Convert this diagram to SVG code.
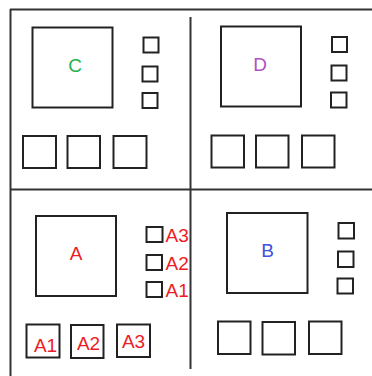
<svg xmlns="http://www.w3.org/2000/svg" width="372" height="376" viewBox="0 0 372 376">
<style>
  .frame { stroke: #333; stroke-width: 2; fill: none; }
  .box { fill: #fff; stroke: #222; stroke-width: 2; }
  .lbl { font-family: "Liberation Sans", Arial, sans-serif; font-size: 19px; }
  .mid { text-anchor: middle; }
  .red { fill: #ED1C24; }
</style>
<rect width="372" height="376" fill="#fff"/>
<g id="frame">
  <line class="frame" x1="10" y1="9.5" x2="372" y2="9.5"/>
  <line class="frame" x1="10.5" y1="9" x2="10.5" y2="376"/>
  <line class="frame" x1="10" y1="189.5" x2="372" y2="189.5"/>
  <line class="frame" x1="190.5" y1="17" x2="190.5" y2="369"/>
</g>
<g id="C">
  <rect class="box" x="32.5" y="27.5" width="80" height="80"/>
  <text class="lbl mid" x="75" y="72" fill="#22B14C">C</text>
  <rect class="box" x="143.5" y="37.5" width="15" height="15"/>
  <rect class="box" x="142.5" y="66.5" width="15" height="15"/>
  <rect class="box" x="142.5" y="93" width="15" height="15"/>
  <rect class="box" x="23" y="136" width="33" height="32"/>
  <rect class="box" x="67.5" y="136" width="32.5" height="32"/>
  <rect class="box" x="113.5" y="136" width="33" height="32"/>
</g>
<g id="D">
  <rect class="box" x="221" y="26.5" width="80" height="80"/>
  <text class="lbl mid" x="260" y="71" fill="#B050C0">D</text>
  <rect class="box" x="332" y="37" width="15" height="15"/>
  <rect class="box" x="331.5" y="65.5" width="15" height="15"/>
  <rect class="box" x="331" y="92.5" width="15.5" height="15"/>
  <rect class="box" x="211.5" y="135.5" width="32.5" height="32"/>
  <rect class="box" x="256" y="135.5" width="32.5" height="32"/>
  <rect class="box" x="302" y="135.5" width="32.5" height="32"/>
</g>
<g id="A">
  <rect class="box" x="36" y="216" width="80" height="80"/>
  <text class="lbl mid red" x="76" y="260">A</text>
  <rect class="box" x="146.5" y="227" width="16" height="15"/>
  <rect class="box" x="146.5" y="255" width="15.5" height="15"/>
  <rect class="box" x="146.5" y="282" width="15.5" height="15"/>
  <text class="lbl red" x="165.5" y="241.5">A3</text>
  <text class="lbl red" x="165.5" y="270">A2</text>
  <text class="lbl red" x="165.5" y="296.5">A1</text>
  <rect class="box" x="26.5" y="324.5" width="33" height="33"/>
  <rect class="box" x="71" y="325" width="32.5" height="33"/>
  <rect class="box" x="117" y="324.5" width="33" height="32.5"/>
  <text class="lbl mid red" x="45.5" y="352">A1</text>
  <text class="lbl mid red" x="88.5" y="350">A2</text>
  <text class="lbl mid red" x="133.5" y="348">A3</text>
</g>
<g id="B">
  <rect class="box" x="227" y="213" width="80.5" height="80"/>
  <text class="lbl mid" x="267.5" y="257" fill="#4050E0">B</text>
  <rect class="box" x="338.5" y="223" width="15.5" height="15.5"/>
  <rect class="box" x="338" y="251.5" width="15.5" height="15.5"/>
  <rect class="box" x="337.5" y="278.5" width="15.5" height="15"/>
  <rect class="box" x="218" y="321.5" width="32.5" height="32.5"/>
  <rect class="box" x="262.5" y="322" width="32.5" height="32.5"/>
  <rect class="box" x="309" y="321.5" width="32.5" height="32.5"/>
</g>
<g id="connectors"/>
</svg>
